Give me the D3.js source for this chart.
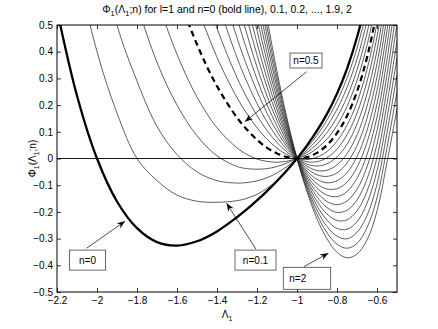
<!DOCTYPE html>
<html>
<head>
<meta charset="utf-8">
<script src="https://cdn.jsdelivr.net/npm/d3@7"></script>
<style>
  body { margin: 0; background: white; }
  svg text { font-family: "Liberation Sans", Arial, Helvetica, sans-serif; fill: black; }
</style>
</head>
<body>
<div id="chart"></div>
<script>
// Lambda_1 grid shared by every curve
const lambdaGrid = [-2.2, -2.1, -2.0, -1.9, -1.8, -1.7, -1.6, -1.5, -1.4, -1.3, -1.25, -1.2, -1.15, -1.1, -1.05,
                    -1.0, -0.95, -0.9, -0.85, -0.8, -0.75, -0.7, -0.65, -0.6, -0.55, -0.5];

// Phi_1 values, one array per n (null = far off the chart)
const phiN00 = [0.557, 0.235, 0, -0.161, -0.261, -0.313, -0.326, -0.310, -0.273, -0.220, -0.190, -0.157, -0.122, -0.084, -0.044, 0, 0.049, 0.104, 0.167, 0.243, 0.336, 0.454, 0.606, 0.808, 1.083, 1.466];
const phiN01 = [1.120, 0.722, 0.400, 0.170, 0.000, -0.083, -0.137, -0.160, -0.164, -0.158, -0.149, -0.134, -0.112, -0.082, -0.044, 0, 0.040, 0.087, 0.144, 0.214, 0.301, 0.413, 0.561, 0.758, 1.028, 1.402];
const phiN02 = [1.683, 1.209, 0.834, 0.500, 0.290, 0.120, 0.015, -0.050, -0.083, -0.092, -0.090, -0.084, -0.072, -0.054, -0.030, 0, 0.031, 0.070, 0.120, 0.184, 0.266, 0.373, 0.516, 0.708, 0.973, 1.338];
const phiN03 = [2.246, 1.696, 1.251, 0.850, 0.580, 0.360, 0.200, 0.085, 0.010, -0.030, -0.038, -0.040, -0.038, -0.030, -0.017, 0, 0.023, 0.054, 0.097, 0.154, 0.230, 0.332, 0.469, 0.657, 0.918, 1.274];
const phiN04 = [null, 2.183, 1.668, 1.249, 0.870, 0.600, 0.390, 0.230, 0.115, 0.040, 0.015, -0.002, -0.011, -0.014, -0.010, 0, 0.014, 0.038, 0.073, 0.124, 0.195, 0.292, 0.424, 0.607, 0.864, 1.210];
const phiN05 = [null, null, 2.085, 1.602, 1.206, 0.885, 0.629, 0.427, 0.271, 0.153, 0.108, 0.070, 0.040, 0.019, 0.005, 0, 0.005, 0.021, 0.050, 0.095, 0.159, 0.251, 0.378, 0.557, 0.809, 1.146];
const phiN06 = [null, null, null, 1.954, 1.499, 1.125, 0.820, 0.574, 0.379, 0.228, 0.167, 0.115, 0.072, 0.039, 0.014, 0, -0.004, 0.005, 0.026, 0.065, 0.124, 0.210, 0.333, 0.507, 0.754, 1.082];
const phiN07 = [null, null, null, 2.307, 1.793, 1.364, 1.011, 0.722, 0.488, 0.303, 0.227, 0.161, 0.105, 0.060, 0.024, 0, -0.012, -0.012, 0.003, 0.035, 0.089, 0.170, 0.288, 0.456, 0.699, 1.018];
const phiN08 = [null, null, null, null, 2.086, 1.604, 1.202, 0.869, 0.597, 0.378, 0.286, 0.206, 0.137, 0.080, 0.034, 0, -0.021, -0.028, -0.020, 0.006, 0.053, 0.129, 0.242, 0.406, 0.644, 0.954];
const phiN09 = [null, null, null, null, 2.380, 1.844, 1.393, 1.017, 0.705, 0.452, 0.346, 0.252, 0.170, 0.101, 0.044, 0, -0.029, -0.045, -0.044, -0.024, 0.018, 0.088, 0.196, 0.356, 0.589, 0.890];
const phiN10 = [null, null, null, null, null, 2.083, 1.584, 1.164, 0.814, 0.527, 0.405, 0.297, 0.202, 0.121, 0.053, 0, -0.038, -0.061, -0.067, -0.054, -0.017, 0.048, 0.151, 0.306, 0.535, 0.826];
const phiN11 = [null, null, null, null, null, 2.323, 1.775, 1.311, 0.923, 0.601, 0.465, 0.342, 0.234, 0.142, 0.063, 0, -0.047, -0.078, -0.091, -0.083, -0.053, 0.007, 0.105, 0.255, 0.480, 0.762];
const phiN12 = [null, null, null, null, null, 2.562, 1.966, 1.459, 1.031, 0.676, 0.524, 0.388, 0.267, 0.162, 0.073, 0, -0.055, -0.095, -0.114, -0.113, -0.089, -0.033, 0.060, 0.205, 0.425, 0.698];
const phiN13 = [null, null, null, null, null, null, 2.157, 1.606, 1.140, 0.751, 0.584, 0.433, 0.299, 0.183, 0.082, 0, -0.064, -0.111, -0.137, -0.143, -0.124, -0.074, 0.014, 0.155, 0.370, 0.634];
const phiN14 = [null, null, null, null, null, null, 2.348, 1.754, 1.249, 0.826, 0.643, 0.479, 0.332, 0.203, 0.092, 0, -0.073, -0.127, -0.161, -0.173, -0.159, -0.115, -0.032, 0.105, 0.315, 0.570];
const phiN15 = [null, null, null, null, null, null, 2.539, 1.901, 1.358, 0.901, 0.703, 0.524, 0.364, 0.224, 0.102, 0, -0.082, -0.143, -0.184, -0.202, -0.194, -0.155, -0.077, 0.054, 0.260, 0.506];
const phiN16 = [null, null, null, null, null, null, null, 2.048, 1.466, 0.975, 0.762, 0.569, 0.396, 0.244, 0.112, 0, -0.090, -0.160, -0.208, -0.232, -0.230, -0.196, -0.123, 0.004, 0.205, 0.442];
const phiN17 = [null, null, null, null, null, null, null, 2.196, 1.575, 1.050, 0.822, 0.615, 0.429, 0.265, 0.121, 0, -0.099, -0.177, -0.231, -0.262, -0.265, -0.237, -0.168, -0.046, 0.150, 0.378];
const phiN18 = [null, null, null, null, null, null, null, 2.343, 1.684, 1.125, 0.881, 0.660, 0.462, 0.286, 0.131, 0, -0.108, -0.193, -0.255, -0.291, -0.301, -0.277, -0.214, -0.096, 0.096, 0.314];
const phiN19 = [null, null, null, null, null, null, null, 2.491, 1.792, 1.199, 0.941, 0.706, 0.494, 0.306, 0.141, 0, -0.116, -0.210, -0.278, -0.321, -0.336, -0.318, -0.259, -0.147, 0.041, 0.250];
const phiN20 = [null, null, null, null, null, null, null, 2.638, 1.901, 1.274, 1.000, 0.751, 0.526, 0.326, 0.151, 0, -0.125, -0.226, -0.301, -0.351, -0.372, -0.358, -0.305, -0.197, -0.014, 0.186];

const nValues = [0, 0.1, 0.2, 0.3, 0.4, 0.5, 0.6, 0.7, 0.8, 0.9, 1.0, 1.1, 1.2, 1.3, 1.4, 1.5, 1.6, 1.7, 1.8, 1.9, 2.0];
const phiSeries = [phiN00, phiN01, phiN02, phiN03, phiN04, phiN05, phiN06, phiN07, phiN08, phiN09, phiN10,
                   phiN11, phiN12, phiN13, phiN14, phiN15, phiN16, phiN17, phiN18, phiN19, phiN20];

// tick values
const xTicks = [-2.2, -2, -1.8, -1.6, -1.4, -1.2, -1, -0.8, -0.6];
const yTicks = [-0.5, -0.4, -0.3, -0.2, -0.1, 0, 0.1, 0.2, 0.3, 0.4, 0.5];

// text boxes with arrows (box corner + arrow tail/head in data units)
const labelText = ["n=0", "n=0.1", "n=0.5", "n=2"];
const labelBox = [[-2.138, -0.343, -1.957, -0.418], [-1.31, -0.343, -1.105, -0.418],
                  [-1.035, 0.395, -0.875, 0.339], [-1.0685, -0.4075, -0.8315, -0.49]];
const labelArrow = [[-2.052, -0.336, -1.86, -0.235], [-1.205, -0.34, -1.352, -0.168],
                    [-0.952, 0.325, -1.26, 0.138], [-0.965, -0.405, -0.8435, -0.355]];

function drawChart() {
    var width = 438, height = 329;
    var margin = { top: 25, right: 41, bottom: 37, left: 57 };

    var svg = d3.select("#chart").append("svg")
        .attr("width", width)
        .attr("height", height);

    var x = d3.scaleLinear().domain([-2.2, -0.5]).range([margin.left, width - margin.right]);
    var y = d3.scaleLinear().domain([-0.5, 0.5]).range([height - margin.bottom, margin.top]);

    var fmt = d => String(d).replace("-", "\u2212");

    // clip to the axes box
    svg.append("clipPath").attr("id", "plot-clip")
        .append("rect")
        .attr("x", margin.left).attr("y", margin.top)
        .attr("width", x(-0.5) - x(-2.2)).attr("height", y(-0.5) - y(0.5));

    var line = d3.line()
        .defined(d => d[1] !== null)
        .x(d => x(d[0]))
        .y(d => y(d[1]))
        .curve(d3.curveCatmullRom.alpha(0.5));

    var curves = svg.append("g").attr("clip-path", "url(#plot-clip)");

    // thin curves first, then dashed n=0.5 and bold n=0 on top
    var order = d3.range(nValues.length).filter(i => nValues[i] !== 0 && nValues[i] !== 0.5);
    order.push(nValues.indexOf(0.5), nValues.indexOf(0));

    order.forEach(i => {
        var pts = lambdaGrid.map((l, j) => [l, phiSeries[i][j]]);
        var p = curves.append("path")
            .attr("d", line(pts))
            .attr("fill", "none")
            .attr("stroke", nValues[i] === 0 || nValues[i] === 0.5 ? "#000" : "#2a2a2a")
            .attr("stroke-width", nValues[i] === 0 ? 2.3 : (nValues[i] === 0.5 ? 2.2 : 0.75));
        if (nValues[i] === 0.5) p.attr("stroke-dasharray", "6,4");
    });

    // zero line
    svg.append("line")
        .attr("x1", x(-2.2)).attr("x2", x(-0.5))
        .attr("y1", y(0)).attr("y2", y(0))
        .attr("stroke", "#000").attr("stroke-width", 0.9);

    // axes with inward ticks
    var bottom = svg.append("g")
        .attr("transform", `translate(0, ${y(-0.5)})`)
        .call(d3.axisBottom(x).tickValues(xTicks).tickFormat(fmt).tickSizeInner(-4).tickSizeOuter(0).tickPadding(5));
    var top = svg.append("g")
        .attr("transform", `translate(0, ${y(0.5)})`)
        .call(d3.axisTop(x).tickValues(xTicks).tickFormat("").tickSizeInner(-4).tickSizeOuter(0));
    var left = svg.append("g")
        .attr("transform", `translate(${x(-2.2)}, 0)`)
        .call(d3.axisLeft(y).tickValues(yTicks).tickFormat(fmt).tickSizeInner(-4).tickSizeOuter(0).tickPadding(4));
    var right = svg.append("g")
        .attr("transform", `translate(${x(-0.5)}, 0)`)
        .call(d3.axisRight(y).tickValues(yTicks).tickFormat("").tickSizeInner(-4).tickSizeOuter(0));

    [bottom, top, left, right].forEach(g => {
        g.select(".domain").remove();
        g.selectAll("line").attr("stroke", "#000").attr("stroke-width", 0.8);
        g.selectAll("text").style("font-size", "10px")
            .style("font-family", "'Liberation Sans', Arial, sans-serif");
    });

    // frame
    svg.append("rect")
        .attr("x", x(-2.2)).attr("y", y(0.5))
        .attr("width", x(-0.5) - x(-2.2)).attr("height", y(-0.5) - y(0.5))
        .attr("fill", "none").attr("stroke", "#000").attr("stroke-width", 1);

    // arrowhead marker
    svg.append("defs").append("marker")
        .attr("id", "head")
        .attr("viewBox", "-8 -4 9 8")
        .attr("markerWidth", 9).attr("markerHeight", 8)
        .attr("markerUnits", "userSpaceOnUse")
        .attr("refX", 0).attr("refY", 0)
        .attr("orient", "auto")
        .append("path")
        .attr("d", "M0,0 L-8,-3.2 L-5.5,0 L-8,3.2 Z")
        .attr("fill", "#000");

    // annotations
    labelText.forEach((t, i) => {
        var b = labelBox[i], a = labelArrow[i];
        svg.append("line")
            .attr("x1", x(a[0])).attr("y1", y(a[1]))
            .attr("x2", x(a[2])).attr("y2", y(a[3]))
            .attr("stroke", "#000").attr("stroke-width", 0.7)
            .attr("marker-end", "url(#head)");
        svg.append("rect")
            .attr("x", x(b[0])).attr("y", y(b[1]))
            .attr("width", x(b[2]) - x(b[0])).attr("height", y(b[3]) - y(b[1]))
            .attr("fill", "white").attr("stroke", "#444").attr("stroke-width", 0.8);
        svg.append("text")
            .attr("x", t === "n=2" ? x(b[0]) + 6 : (x(b[0]) + x(b[2])) / 2)
            .attr("y", (y(b[1]) + y(b[3])) / 2 + 3.5)
            .attr("text-anchor", t === "n=2" ? "start" : "middle")
            .style("font-size", "10px")
            .text(t);
    });

    // title
    var title = svg.append("text")
        .attr("x", (x(-2.2) + x(-0.5)) / 2)
        .attr("y", 13)
        .attr("text-anchor", "middle")
        .style("font-size", "10.5px");
    title.append("tspan").text("\u03A6");
    title.append("tspan").attr("dy", 3).style("font-size", "7.5px").text("1");
    title.append("tspan").attr("dy", -3).text("(\u039B");
    title.append("tspan").attr("dy", 3).style("font-size", "7.5px").text("1");
    title.append("tspan").attr("dy", -3).text(";n) for l=1 and n=0 (bold line), 0.1, 0.2, ..., 1.9, 2");

    // x label
    var xl = svg.append("text")
        .attr("x", (x(-2.2) + x(-0.5)) / 2)
        .attr("y", 318)
        .attr("text-anchor", "middle")
        .style("font-size", "10px");
    xl.append("tspan").text("\u039B");
    xl.append("tspan").attr("dy", 3).style("font-size", "7px").text("1");

    // y label
    var yl = svg.append("text")
        .attr("transform", `translate(36, ${(y(0.5) + y(-0.5)) / 2}) rotate(-90)`)
        .attr("text-anchor", "middle")
        .style("font-size", "10px");
    yl.append("tspan").text("\u03A6");
    yl.append("tspan").attr("dy", 3).style("font-size", "7px").text("1");
    yl.append("tspan").attr("dy", -3).text("(\u039B");
    yl.append("tspan").attr("dy", 3).style("font-size", "7px").text("1");
    yl.append("tspan").attr("dy", -3).text(";n)");
}

drawChart();
</script>
</body>
</html>
